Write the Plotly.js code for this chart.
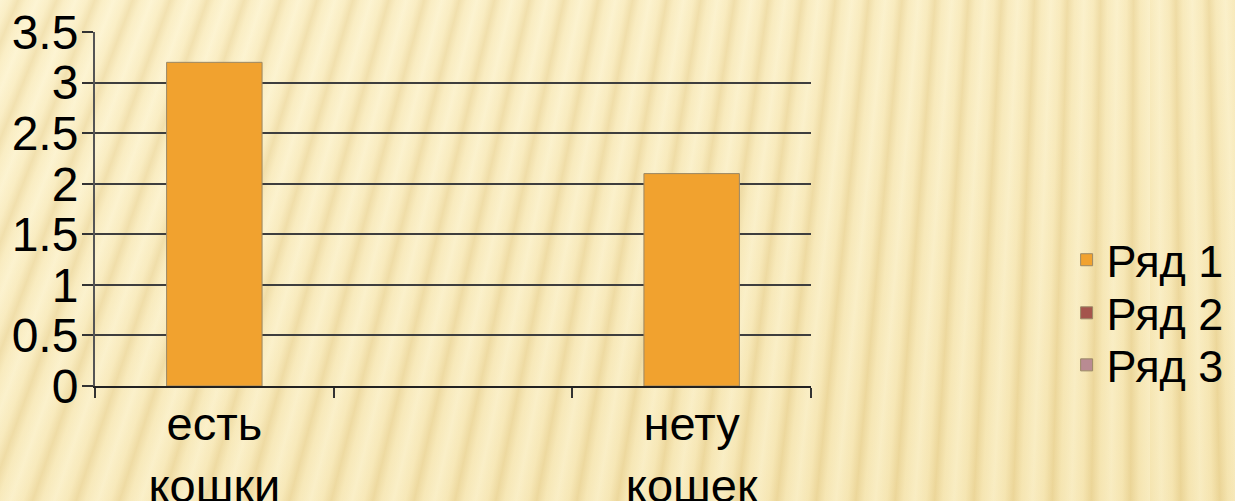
<!DOCTYPE html>
<html>
<head>
<meta charset="utf-8">
<script src="https://cdn.plot.ly/plotly-3.0.1.min.js"></script>
<style>
html, body { margin:0; padding:0; width:1235px; height:501px; overflow:hidden; }
body {
  background-color:#f8eabb;
  background-image:
    linear-gradient(to bottom right, rgba(255,250,225,0.35), rgba(230,205,130,0.18)),
    repeating-conic-gradient(from 180deg at 1150px -2700px,
      #fcf2cd 0deg, #f8e9b9 0.2deg, #ecd69a 0.35deg, #f8e9b9 0.5deg, #fcf2cd 0.7deg);
}
#chart { width:1235px; height:501px; }
</style>
</head>
<body>
<div id="chart"></div>
<script>
const categories = ["есть<br>кошки", " ", "нету<br>кошек"];
const seriesNames = ["Ряд 1", "Ряд 2", "Ряд 3"];
const series1 = [3.2, null, 2.1];
const series2 = [null, null, null];
const series3 = [null, null, null];
const yTickVals = [0, 0.5, 1, 1.5, 2, 2.5, 3, 3.5];
const yTickText = ["0", "0.5", "1", "1.5", "2", "2.5", "3", "3.5"];
const colors = ["#f1a22f", "#a4544c", "#b98b92"];

const legendIds = ["legend", "legend2", "legend3"];
const allSeries = [series1, series2, series3];
const traces = allSeries.map((vals, i) => ({
  type: "bar",
  name: seriesNames[i],
  legend: legendIds[i],
  x: categories,
  y: vals,
  width: 0.4,
  marker: { color: colors[i], line: { color: "#9a8866", width: 1 } },
  hoverinfo: "skip"
}));

const legendFont = { size: 45, family: "Liberation Sans, Arial, sans-serif", color: "#000" };
const legendYs = [0.356, 0.206, 0.059];
function makeLegend(y) {
  return {
    x: 1.357, xanchor: "left",
    y: y, yanchor: "middle",
    font: legendFont,
    bgcolor: "rgba(0,0,0,0)",
    borderwidth: 0,
    itemwidth: 30
  };
}

const layout = {
  width: 1235,
  height: 501,
  margin: { l: 95, r: 424, t: 32, b: 115, pad: 0, autoexpand: false },
  paper_bgcolor: "rgba(0,0,0,0)",
  plot_bgcolor: "rgba(0,0,0,0)",
  barmode: "overlay",
  font: { family: "Liberation Sans, Arial, sans-serif", color: "#000" },
  showlegend: true,
  legend: makeLegend(legendYs[0]),
  legend2: makeLegend(legendYs[1]),
  legend3: makeLegend(legendYs[2]),
  xaxis: {
    type: "category",
    categoryorder: "array",
    categoryarray: categories,
    range: [-0.5, 2.5],
    tickson: "boundaries",
    ticks: "outside",
    ticklen: 10,
    tickwidth: 2,
    tickcolor: "#333",
    showgrid: false,
    showline: true,
    linecolor: "#222",
    linewidth: 2,
    zeroline: false,
    ticklabelstandoff: -4,
    tickfont: { size: 47, family: "Liberation Sans, Arial, sans-serif", color: "#000" },
    fixedrange: true
  },
  yaxis: {
    range: [0, 3.5],
    tickvals: yTickVals,
    ticktext: yTickText,
    ticks: "outside",
    ticklen: 11,
    tickwidth: 2,
    tickcolor: "#333",
    showgrid: true,
    gridcolor: "#3e3e3e",
    gridwidth: 2,
    showline: true,
    linecolor: "#555",
    linewidth: 2,
    zeroline: false,
    ticklabelstandoff: -6,
    tickfont: { size: 48, family: "Liberation Sans, Arial, sans-serif", color: "#000" },
    fixedrange: true
  }
};

Plotly.newPlot("chart", traces, layout, { displayModeBar: false, staticPlot: true });
</script>
</body>
</html>
